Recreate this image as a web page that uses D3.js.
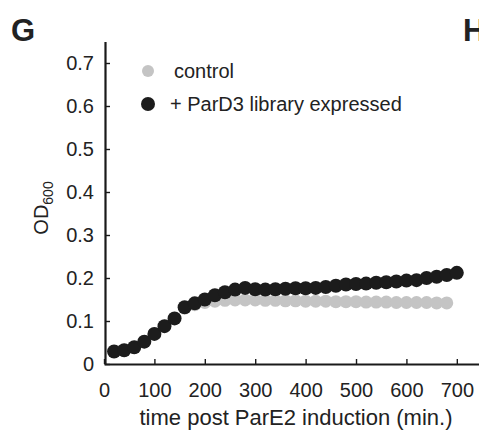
<!DOCTYPE html>
<html lang="en">
<head>
    <meta charset="utf-8">
    <title>ParE2 growth</title>
    <script type="text/javascript" src="https://d3js.org/d3.v7.min.js"></script>
    <style>
        body { margin: 0; background: white; }
        svg text { font-family: "Liberation Sans", Arial, sans-serif; fill: #222; }
        .axis path, .axis line { stroke: #1a1a1a; }
    </style>
</head>
<body>
    <div id="chart"></div>
    <script type="text/javascript">
        // time points (min.)
        const times = [20, 40, 60, 80, 100, 120, 140, 160, 180, 200, 220, 240, 260, 280, 300,
                       320, 340, 360, 380, 400, 420, 440, 460, 480, 500, 520, 540, 560, 580,
                       600, 620, 640, 660, 680, 700];
        // OD600, ParD3 library expressed
        const pard3 = [0.029, 0.032, 0.039, 0.052, 0.070, 0.088, 0.106, 0.132, 0.141, 0.150,
                       0.160, 0.167, 0.173, 0.177, 0.174, 0.173, 0.174, 0.175, 0.176, 0.176,
                       0.177, 0.179, 0.182, 0.185, 0.186, 0.187, 0.189, 0.190, 0.192, 0.194,
                       0.195, 0.200, 0.203, 0.207, 0.212];
        // OD600, control (last time point 680)
        const control = [0.029, 0.032, 0.039, 0.052, 0.070, 0.088, 0.106, 0.130, 0.138, 0.143,
                         0.146, 0.148, 0.149, 0.149, 0.149, 0.148, 0.148, 0.147, 0.147, 0.146,
                         0.146, 0.146, 0.145, 0.145, 0.145, 0.144, 0.144, 0.144, 0.143, 0.143,
                         0.143, 0.143, 0.142, 0.142];
        const xTicks = [0, 100, 200, 300, 400, 500, 600, 700];
        const yTicks = [0, 0.1, 0.2, 0.3, 0.4, 0.5, 0.6, 0.7];
        const legendLabels = ["control", "+ ParD3 library expressed"];
        const seriesColors = ["#c4c4c4", "#1c1c1c"];

        const width = 479;
        const height = 430;

        const svg = d3.select("#chart")
            .append("svg")
            .attr("width", width)
            .attr("height", height);

        const x = d3.scaleLinear()
            .domain([0, 745])
            .range([104, 479.5]);

        const y = d3.scaleLinear()
            .domain([0, 0.75])
            .range([364, 41.5]);

        // panel letters
        svg.append("text")
            .attr("x", 11).attr("y", 41)
            .style("font-size", "31px").style("font-weight", "bold")
            .text("G");
        svg.append("text")
            .attr("x", 463).attr("y", 41)
            .style("font-size", "31px").style("font-weight", "bold")
            .text("H");

        // x axis
        svg.append("g")
            .attr("class", "axis")
            .attr("transform", `translate(0,${y(0)})`)
            .call(d3.axisBottom(x)
                .tickValues(xTicks)
                .tickFormat(d3.format("d"))
                .tickSizeInner(-5)
                .tickSizeOuter(0)
                .tickPadding(19))
            .call(g => g.select(".domain").attr("stroke-width", 2.2))
            .call(g => g.selectAll(".tick line").attr("stroke-width", 1.4))
            .call(g => g.selectAll(".tick text").style("font-size", "20px").attr("fill", "#222"));

        // y axis
        svg.append("g")
            .attr("class", "axis")
            .attr("transform", `translate(${x(0) + 1},0)`)
            .call(d3.axisLeft(y)
                .tickValues(yTicks)
                .tickFormat(d => d === 0 ? "0" : d3.format(".1f")(d))
                .tickSizeInner(-5)
                .tickSizeOuter(0)
                .tickPadding(11))
            .call(g => g.select(".domain").attr("stroke-width", 2.2))
            .call(g => g.selectAll(".tick line").attr("stroke-width", 1.4))
            .call(g => g.selectAll(".tick text").style("font-size", "20px").attr("fill", "#222"));

        // axis titles
        svg.append("text")
            .attr("x", 296).attr("y", 425)
            .attr("text-anchor", "middle")
            .style("font-size", "22px")
            .text("time post ParE2 induction (min.)");

        const yTitle = svg.append("text")
            .attr("transform", "translate(48,208) rotate(-90)")
            .attr("text-anchor", "middle")
            .style("font-size", "20px");
        yTitle.append("tspan").text("OD");
        yTitle.append("tspan").attr("dy", 5).style("font-size", "14px").text("600");

        // series: control under, ParD3 on top
        svg.append("g")
            .selectAll("circle")
            .data(control)
            .join("circle")
                .attr("cx", (d, i) => x(times[i]))
                .attr("cy", d => y(d))
                .attr("r", 6.5)
                .attr("fill", seriesColors[0]);

        svg.append("g")
            .selectAll("circle")
            .data(pard3)
            .join("circle")
                .attr("cx", (d, i) => x(times[i]))
                .attr("cy", d => y(d))
                .attr("r", 7)
                .attr("fill", seriesColors[1]);

        // legend
        const legend = svg.append("g")
            .selectAll("g")
            .data(legendLabels)
            .join("g")
                .attr("transform", (d, i) => `translate(148,${71 + i * 33})`);
        legend.append("circle")
            .attr("r", (d, i) => i === 0 ? 6 : 7)
            .attr("fill", (d, i) => seriesColors[i]);
        legend.append("text")
            .attr("x", (d, i) => i === 0 ? 26 : 22)
            .attr("y", 7)
            .style("font-size", "20px")
            .text(d => d);
    </script>
</body>
</html>
